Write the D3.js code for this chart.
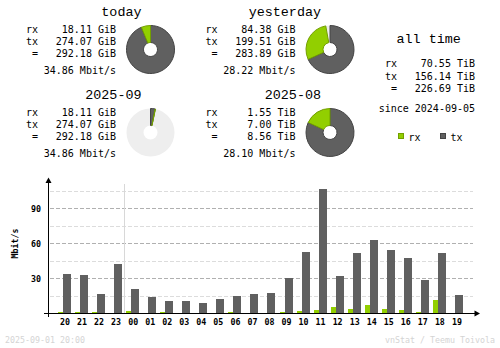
<!DOCTYPE html>
<html><head><meta charset="utf-8">
<script src="https://cdn.jsdelivr.net/npm/d3@7"></script>
<style>
html,body{margin:0;padding:0;background:#fff;}
svg{display:block;}
text{font-family:"DejaVu Sans Mono",monospace;white-space:pre;fill:#000;}
text.title{font-family:"Liberation Mono","DejaVu Sans Mono",monospace;font-size:13.4px;}
</style></head><body>
<svg id="c" width="500" height="348"></svg>
<script>
// hourly average rates, Mbit/s
const hours = ["20","21","22","23","00","01","02","03","04","05","06","07","08","09","10","11","12","13","14","15","16","17","18","19"];
const rxRate = [1.0,0.9,0.9,0,1.7,0,0.9,0,0,0,0.9,0,0,0.9,2.0,2.9,5.4,3.7,7.1,3.7,2.9,0.9,11.1,0];
const txRate = [33.4,32.6,16.6,42.0,20.9,13.7,10.3,10.3,8.6,12.0,14.9,16.3,17.1,30.0,52.3,106.3,31.7,51.4,62.6,54.0,47.1,28.3,51.4,15.4];
const majorTicks = [30,60,90];
const minorTicks = [15,45,75,105];
const dayBreak = "00";

// period summaries
const periods = ["today","yesterday","2025-09","2025-08"];
const periodRxGiB = [18.11, 84.38, 18.11, 1.55*1024];
const periodTxGiB = [274.07, 199.51, 274.07, 7.00*1024];
const periodRxText = ["18.11 GiB","84.38 GiB","18.11 GiB","1.55 TiB"];
const periodTxText = ["274.07 GiB","199.51 GiB","274.07 GiB","7.00 TiB"];
const periodTotalText = ["292.18 GiB","283.89 GiB","292.18 GiB","8.56 TiB"];
const periodRateText = ["34.86 Mbit/s","28.22 Mbit/s","34.86 Mbit/s","28.10 Mbit/s"];

const allTimeLabels = ["rx","tx"," ="];
const allTimeValues = ["70.55 TiB","156.14 TiB","226.69 TiB"];
const sinceText = "since 2024-09-05";
const stampText = "2025-09-01 20:00";
const creditText = "vnStat / Teemu Toivola";

const RX = "#92cf00", TX = "#606060";
const RX_EDGE = "#739f00", TX_EDGE = "#444444";

const svg = d3.select("#c");

// ---------- summary blocks ----------
const arc = d3.arc().innerRadius(7).outerRadius(24);
periods.forEach((name, i) => {
  const col = i % 2, row = Math.floor(i / 2);
  const g = svg.append("g").attr("transform", `translate(${col*179.5},${row*83})`);
  g.append("text").attr("class", "title").attr("x", 141.5).attr("y", 15.5).attr("text-anchor", "end").text(name);
  const labels = ["rx","tx"," ="];
  const vals = [periodRxText[i], periodTxText[i], periodTotalText[i]];
  const ys = [33, 45.2, 57.4];
  labels.forEach((l, k) => {
    g.append("text").attr("x", 26).attr("y", ys[k]).style("font-size", "10px").text(l);
    g.append("text").attr("x", 116).attr("y", ys[k]).attr("text-anchor", "end")
      .style("font-size", "10px").text(vals[k]);
  });
  g.append("text").attr("x", 116).attr("y", 73.5).attr("text-anchor", "end")
    .style("font-size", "10px").text(periodRateText[i]);

  // pie: share of the larger period of the pair
  const pair = row * 2;
  const maxTotal = Math.max(periodRxGiB[pair] + periodTxGiB[pair], periodRxGiB[pair+1] + periodTxGiB[pair+1]);
  const a = d3.scaleLinear().domain([0, maxTotal]).range([0, 2*Math.PI]);
  const pg = g.append("g").attr("transform", "translate(150.5,49.5)");
  pg.append("path").attr("d", arc({startAngle: 0, endAngle: 2*Math.PI})).attr("fill", "#eeeeee");
  const txEnd = a(periodTxGiB[i]);
  const rxEnd = a(periodTxGiB[i] + periodRxGiB[i]);
  pg.append("path").attr("d", arc({startAngle: 0, endAngle: txEnd}))
    .attr("fill", TX).attr("stroke", TX_EDGE).attr("stroke-width", 1);
  pg.append("path").attr("d", arc({startAngle: txEnd, endAngle: rxEnd}))
    .attr("fill", RX).attr("stroke", RX_EDGE).attr("stroke-width", 1);
});

// ---------- all time ----------
svg.append("text").attr("class", "title").attr("x", 428.7).attr("y", 43).attr("text-anchor", "middle").text("all time");
allTimeLabels.forEach((l, k) => {
  const yy = 67.3 + k * 12.2;
  svg.append("text").attr("x", 385).attr("y", yy).style("font-size", "10px").text(l);
  svg.append("text").attr("x", 475).attr("y", yy).attr("text-anchor", "end")
    .style("font-size", "10px").text(allTimeValues[k]);
});
svg.append("text").attr("x", 475).attr("y", 112).attr("text-anchor", "end")
  .style("font-size", "10px").text(sinceText);

// legend
const legend = [["rx", RX, RX_EDGE], ["tx", TX, TX_EDGE]];
legend.forEach(([lab, c, e], k) => {
  const lx = 398.5 + k * 42;
  svg.append("rect").attr("x", lx).attr("y", 133.5).attr("width", 5).attr("height", 5)
    .attr("fill", c).attr("stroke", e);
  svg.append("text").attr("x", lx + 10).attr("y", 140.5).style("font-size", "10px").text(lab);
});

// ---------- hourly chart ----------
const baseY = 313;
const y = d3.scaleLinear().domain([0, 30]).range([baseY, baseY - 35]);
const step = 17.04;
const x = d3.scaleBand().domain(hours)
  .range([58, 58 + 23*step + 13]).paddingInner(1 - 13/step).paddingOuter(0);
const bw = x.bandwidth();
const rxW = bw * 5/13;

const grid = svg.append("g");
minorTicks.forEach(t => {
  grid.append("line").attr("x1", 50).attr("x2", 473)
    .attr("y1", Math.round(y(t)) + 0.5).attr("y2", Math.round(y(t)) + 0.5)
    .attr("stroke", "#dcdcdc").attr("stroke-dasharray", "4,2");
});
majorTicks.forEach(t => {
  grid.append("line").attr("x1", 50).attr("x2", 473)
    .attr("y1", Math.round(y(t)) + 0.5).attr("y2", Math.round(y(t)) + 0.5)
    .attr("stroke", "#b0b0b0").attr("stroke-dasharray", "4,2");
});

// day change marker
const bx = Math.round(x(dayBreak) - (step - bw)/2) + 0.5;
svg.append("line").attr("x1", bx).attr("x2", bx).attr("y1", 184).attr("y2", baseY)
  .attr("stroke", "#d8d8d8");

const bars = svg.append("g");
hours.forEach((h, i) => {
  const x0 = Math.round(x(h));
  if (rxRate[i] > 0) {
    const top = Math.round(y(rxRate[i]));
    bars.append("rect").attr("x", x0).attr("y", top)
      .attr("width", Math.round(rxW)).attr("height", baseY - top).attr("fill", RX);
  }
  const tt = Math.round(y(txRate[i]));
  bars.append("rect").attr("x", x0 + Math.round(rxW)).attr("y", tt)
    .attr("width", Math.round(bw - rxW)).attr("height", baseY - tt).attr("fill", TX);
  svg.append("text").attr("x", x(h) + bw/2 + 0.5).attr("y", 324.5).attr("text-anchor", "middle")
    .style("font-size", "8.3px").style("font-weight", "bold").text(h);
});

// axes
svg.append("line").attr("x1", 48.5).attr("x2", 48.5).attr("y1", 181).attr("y2", 317).attr("stroke", "#000");
svg.append("line").attr("x1", 44).attr("x2", 476).attr("y1", baseY + 0.5).attr("y2", baseY + 0.5).attr("stroke", "#000");
svg.append("path").attr("d", "M48.5,177.5 L51.5,183 L45.5,183 Z").attr("fill", "#000");
svg.append("path").attr("d", "M480,313.5 L474.5,310.5 L474.5,316.5 Z").attr("fill", "#000");

majorTicks.forEach(t => {
  svg.append("text").attr("x", 41).attr("y", y(t) + 3.5).attr("text-anchor", "end")
    .style("font-size", "8.3px").style("font-weight", "bold").text(t);
});
svg.append("text").attr("transform", "translate(17.5,243.5) rotate(-90)")
  .attr("text-anchor", "middle").style("font-size", "8.3px").style("font-weight", "bold").text("Mbit/s");

// footer
svg.append("text").attr("x", 5).attr("y", 343).style("font-size", "8.3px").style("fill", "#d4d4d4").text(stampText);
svg.append("text").attr("x", 495).attr("y", 343).attr("text-anchor", "end")
  .style("font-size", "8.3px").style("fill", "#d4d4d4").text(creditText);
</script>
</body></html>
